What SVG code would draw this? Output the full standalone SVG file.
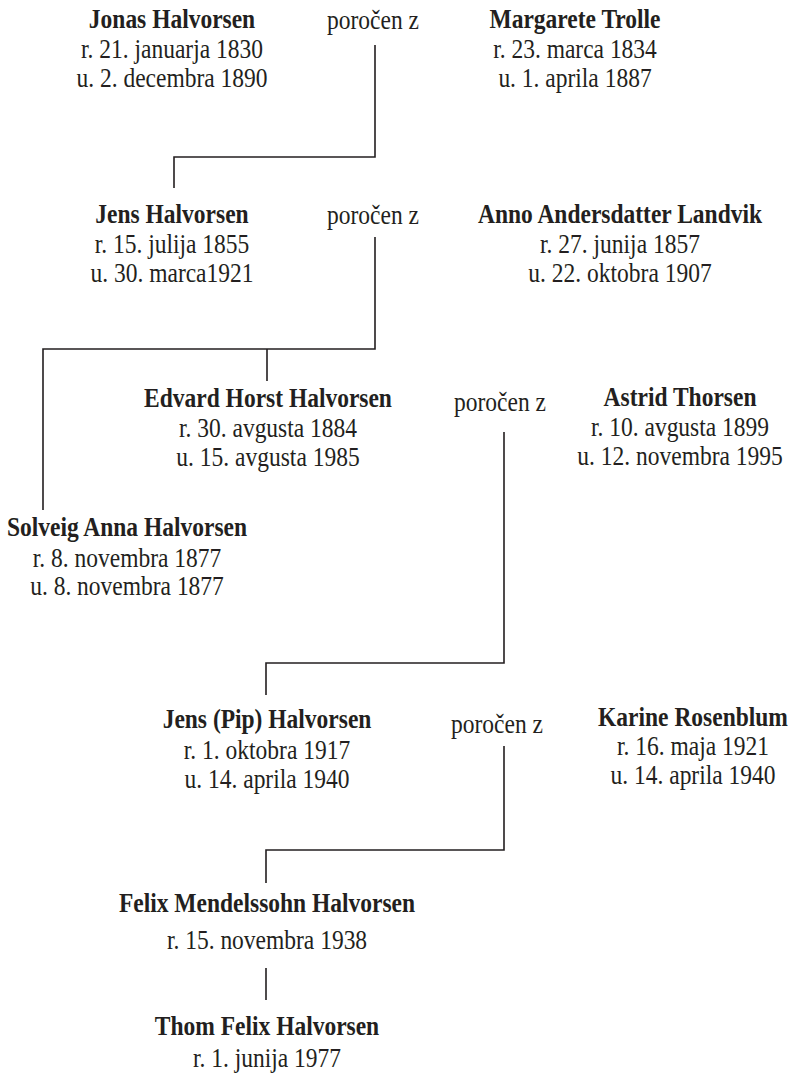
<svg xmlns="http://www.w3.org/2000/svg" width="793" height="1075" viewBox="0 0 793 1075">
<style>
text{font-family:"Liberation Serif","Times New Roman",serif;font-size:27px;fill:#231f20;text-anchor:middle}
.n{font-weight:bold}
.c{fill:none;stroke:#231f20;stroke-width:1.6}
</style>
<rect width="793" height="1075" fill="#fff"/>
<g id="connectors">
<path class="c" d="M375 45V157H174V188"/>
<path class="c" d="M375 237V349H43V510M267 349V381"/>
<path class="c" d="M504 432V663H266V695"/>
<path class="c" d="M504 746V850H266V883"/>
<path class="c" d="M266 968V1000"/>
</g>
<g id="jonas"><text transform="matrix(.87 0 0 1 172 28)" class="n">Jonas Halvorsen</text><text transform="matrix(.87 0 0 1 172 58)">r. 21. januarja 1830</text><text transform="matrix(.87 0 0 1 172 87)">u. 2. decembra 1890</text></g>
<g id="m1"><text transform="matrix(.87 0 0 1 373 29)">poročen z</text></g>
<g id="margarete"><text transform="matrix(.87 0 0 1 575 28)" class="n">Margarete Trolle</text><text transform="matrix(.87 0 0 1 575 58)">r. 23. marca 1834</text><text transform="matrix(.87 0 0 1 575 87)">u. 1. aprila 1887</text></g>
<g id="jens"><text transform="matrix(.87 0 0 1 172 223)" class="n">Jens Halvorsen</text><text transform="matrix(.87 0 0 1 172 253)">r. 15. julija 1855</text><text transform="matrix(.87 0 0 1 172 282)">u. 30. marca1921</text></g>
<g id="m2"><text transform="matrix(.87 0 0 1 373 224)">poročen z</text></g>
<g id="anno"><text transform="matrix(.87 0 0 1 620 223)" class="n">Anno Andersdatter Landvik</text><text transform="matrix(.87 0 0 1 620 253)">r. 27. junija 1857</text><text transform="matrix(.87 0 0 1 620 282)">u. 22. oktobra 1907</text></g>
<g id="edvard"><text transform="matrix(.87 0 0 1 268 407)" class="n">Edvard Horst Halvorsen</text><text transform="matrix(.87 0 0 1 268 437)">r. 30. avgusta 1884</text><text transform="matrix(.87 0 0 1 268 466)">u. 15. avgusta 1985</text></g>
<g id="m3"><text transform="matrix(.87 0 0 1 500 411)">poročen z</text></g>
<g id="astrid"><text transform="matrix(.87 0 0 1 680 406)" class="n">Astrid Thorsen</text><text transform="matrix(.87 0 0 1 680 436)">r. 10. avgusta 1899</text><text transform="matrix(.87 0 0 1 680 465)">u. 12. novembra 1995</text></g>
<g id="solveig"><text transform="matrix(.87 0 0 1 127 536)" class="n">Solveig Anna Halvorsen</text><text transform="matrix(.87 0 0 1 127 567)">r. 8. novembra 1877</text><text transform="matrix(.87 0 0 1 127 595)">u. 8. novembra 1877</text></g>
<g id="jenspip"><text transform="matrix(.87 0 0 1 267 728)" class="n">Jens (Pip) Halvorsen</text><text transform="matrix(.87 0 0 1 267 759)">r. 1. oktobra 1917</text><text transform="matrix(.87 0 0 1 267 788)">u. 14. aprila 1940</text></g>
<g id="m4"><text transform="matrix(.87 0 0 1 497 733)">poročen z</text></g>
<g id="karine"><text transform="matrix(.87 0 0 1 693 726)" class="n">Karine Rosenblum</text><text transform="matrix(.87 0 0 1 693 755)">r. 16. maja 1921</text><text transform="matrix(.87 0 0 1 693 784)">u. 14. aprila 1940</text></g>
<g id="felix"><text transform="matrix(.87 0 0 1 267 912)" class="n">Felix Mendelssohn Halvorsen</text><text transform="matrix(.87 0 0 1 267 949)">r. 15. novembra 1938</text></g>
<g id="thom"><text transform="matrix(.87 0 0 1 267 1035)" class="n">Thom Felix Halvorsen</text><text transform="matrix(.87 0 0 1 267 1067)">r. 1. junija 1977</text></g>
</svg>
